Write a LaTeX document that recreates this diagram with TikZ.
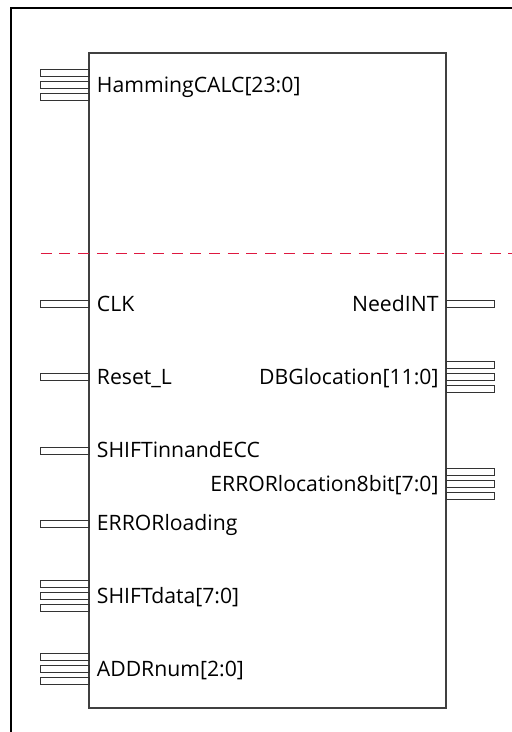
\documentclass[tikz,border=0pt]{standalone}
\usepackage{fontspec}
\setmainfont{Open Sans}
\begin{document}
\begin{tikzpicture}[x=1pt,y=-1pt,
    frame/.style={line width=1.1pt,black},
    block/.style={line width=1.4pt,black!75},
    pinbox/.style={line width=1pt,black!80},
    divider/.style={line width=1.4pt,draw={rgb,255:red,222;green,24;blue,64},dash pattern=on 11pt off 7.7pt},
    pinlbl/.style={inner sep=0pt,font=\fontsize{21.2}{25}\selectfont}]
                \useasboundingbox (0,0) rectangle (512,732);
                \draw[frame] (11,732) -- (11,8) -- (512,8);
                \draw[block] (89,53) rectangle (446,708);
                \path[divider] (40.7,253.5) -- (512,253.5);
                % inputs
                \draw[pinbox] (40.7,69.8) rectangle (89,76.8);
                \draw[pinbox] (40.7,81.8) rectangle (89,88.8);
                \draw[pinbox] (40.7,93.8) rectangle (89,100.8);
                \node[pinlbl,anchor=base west] (hamming) at (96.7,92.3) {HammingCALC[23:0]};
                \draw[pinbox] (40.7,300.5) rectangle (89,307.5);
                \node[pinlbl,anchor=base west] (clk) at (96.7,311) {CLK};
                \draw[pinbox] (40.7,373.5) rectangle (89,380.5);
                \node[pinlbl,anchor=base west] (reset) at (96.7,384) {Reset\_L};
                \draw[pinbox] (40.7,447) rectangle (89,454);
                \node[pinlbl,anchor=base west] (shiftinn) at (96.7,457.5) {SHIFTinnandECC};
                \draw[pinbox] (40.7,520) rectangle (89,527);
                \node[pinlbl,anchor=base west] (errload) at (96.7,530.5) {ERRORloading};
                \draw[pinbox] (40.7,580.5) rectangle (89,587.5);
                \draw[pinbox] (40.7,592.5) rectangle (89,599.5);
                \draw[pinbox] (40.7,604.5) rectangle (89,611.5);
                \node[pinlbl,anchor=base west] (shiftdata) at (96.7,603) {SHIFTdata[7:0]};
                \draw[pinbox] (40.7,653.5) rectangle (89,660.5);
                \draw[pinbox] (40.7,665.5) rectangle (89,672.5);
                \draw[pinbox] (40.7,677.5) rectangle (89,684.5);
                \node[pinlbl,anchor=base west] (addrnum) at (96.7,676) {ADDRnum[2:0]};
                % outputs
                \draw[pinbox] (446,300.5) rectangle (494.7,307.5);
                \node[pinlbl,anchor=base east] (needint) at (438.7,311) {NeedINT};
                \draw[pinbox] (446,361.5) rectangle (494.7,368.5);
                \draw[pinbox] (446,373.5) rectangle (494.7,380.5);
                \draw[pinbox] (446,385.5) rectangle (494.7,392.5);
                \node[pinlbl,anchor=base east] (dbgloc) at (438.7,384.5) {DBGlocation[11:0]};
                \draw[pinbox] (446,468.5) rectangle (494.7,475.5);
                \draw[pinbox] (446,480.5) rectangle (494.7,487.5);
                \draw[pinbox] (446,492.5) rectangle (494.7,499.5);
                \node[pinlbl,anchor=base east] (errloc) at (438.7,491.5) {ERRORlocation8bit[7:0]};
            \end{tikzpicture}
\end{document}
